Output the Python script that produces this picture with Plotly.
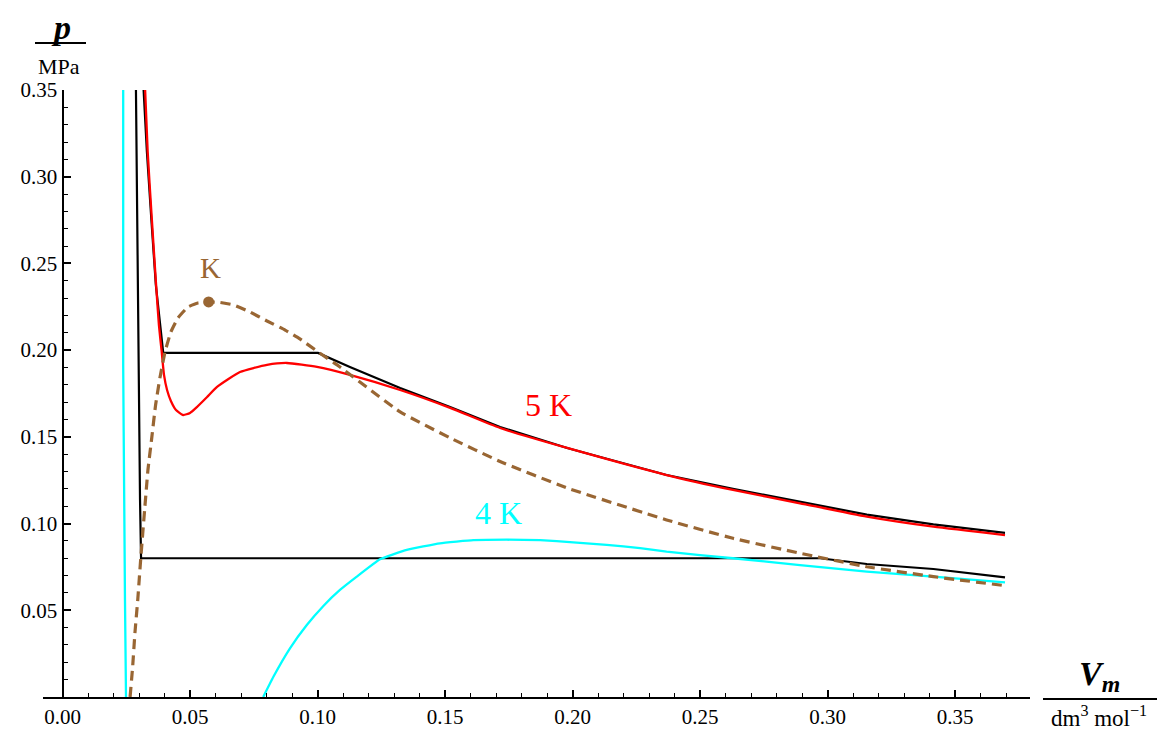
import plotly.graph_objects as go

# --- isotherm data (V_m in dm^3/mol, p in MPa) ---
# van der Waals isotherm, T = 5 K
v_vdw5 = [0.0324, 0.0334, 0.0350, 0.0367, 0.0378, 0.0389, 0.0398, 0.0410, 0.0425, 0.0445,
          0.0473, 0.0500, 0.0527, 0.0567, 0.0606, 0.0696, 0.0802, 0.0880, 0.0998, 0.1127,
          0.1324, 0.1520, 0.1716, 0.1979, 0.2369, 0.2629, 0.2892, 0.3154, 0.3415, 0.3696]
p_vdw5 = [0.3500, 0.3143, 0.2762, 0.2376, 0.2145, 0.1990, 0.1857, 0.1770, 0.1707, 0.1655,
          0.1626, 0.1638, 0.1672, 0.1730, 0.1788, 0.1874, 0.1915, 0.1926, 0.1903, 0.1857,
          0.1770, 0.1667, 0.1551, 0.1436, 0.1280, 0.1194, 0.1117, 0.1040, 0.0982, 0.0934]

# van der Waals isotherm, T = 4 K (two visible branches)
v_vdw4_liq = [0.0238, 0.0238, 0.0242, 0.0245, 0.0249]
p_vdw4_liq = [0.3500, 0.1915, 0.1136, 0.0560, 0.0000]
v_vdw4_gas = [0.0787, 0.0827, 0.0892, 0.0958, 0.1023, 0.1088, 0.1154, 0.1245, 0.1350, 0.1480,
              0.1611, 0.1742, 0.1873, 0.2003, 0.2134, 0.2265, 0.2369, 0.2629, 0.2892, 0.3154,
              0.3415, 0.3696]
p_vdw4_gas = [0.0000, 0.0117, 0.0281, 0.0415, 0.0525, 0.0617, 0.0694, 0.0794, 0.0848, 0.0886,
              0.0904, 0.0907, 0.0904, 0.0892, 0.0877, 0.0859, 0.0838, 0.0800, 0.0761, 0.0723,
              0.0694, 0.0661]

# real isotherms with the two-phase plateau
v_real5 = [0.0318, 0.0331, 0.0348, 0.0366, 0.0395, 0.1002, 0.1127, 0.1324, 0.1520, 0.1716,
           0.1979, 0.2369, 0.2629, 0.2892, 0.3154, 0.3415, 0.3696]
p_real5 = [0.3500, 0.3143, 0.2762, 0.2376, 0.1984, 0.1984, 0.1903, 0.1782, 0.1672, 0.1557,
           0.1436, 0.1280, 0.1200, 0.1125, 0.1052, 0.0995, 0.0946]
v_real4 = [0.0288, 0.0297, 0.0304, 0.0308, 0.2971, 0.3154, 0.3415, 0.3696]
p_real4 = [0.3500, 0.1915, 0.1136, 0.0800, 0.0800, 0.0767, 0.0738, 0.0690]

# coexistence curve
v_coex = [0.0265, 0.0275, 0.0284, 0.0295, 0.0307, 0.0322, 0.0335, 0.0349, 0.0365, 0.0382,
          0.0402, 0.0425, 0.0453, 0.0492, 0.0531, 0.0573, 0.0618, 0.0669, 0.0735, 0.0802,
          0.0873, 0.0931, 0.1002, 0.1088, 0.1324, 0.1520, 0.1716, 0.1979, 0.2369,
          0.2629, 0.2892, 0.3154, 0.3415, 0.3696]
p_coex = [0.0000, 0.0173, 0.0369, 0.0559, 0.0802, 0.1078, 0.1309, 0.1482, 0.1684, 0.1840,
          0.1990, 0.2105, 0.2186, 0.2249, 0.2272, 0.2278, 0.2275, 0.2261, 0.2220, 0.2168,
          0.2116, 0.2065, 0.1990, 0.1903, 0.1644, 0.1494, 0.1358, 0.1205, 0.1021,
          0.0915, 0.0829, 0.0751, 0.0694, 0.0642]

# critical point
v_crit = [0.0573]
p_crit = [0.2278]

y_ticks = [0.05, 0.10, 0.15, 0.20, 0.25, 0.30, 0.35]
y_tick_text = ["0.05", "0.10", "0.15", "0.20", "0.25", "0.30", "0.35"]
x_ticks = [0.00, 0.05, 0.10, 0.15, 0.20, 0.25, 0.30, 0.35]
x_tick_text = ["0.00", "0.05", "0.10", "0.15", "0.20", "0.25", "0.30", "0.35"]

# --- layout geometry (pixels) ---
W, H = 1157, 735
ML, MR, MT, MB = 43, 127, 90, 38
PW, PH = W - ML - MR, H - MT - MB
X0 = -0.00765
X1 = 0.3794
BROWN = "#996633"
SERIF = "Liberation Serif"


def px_x(px):
    return (px - ML) / PW


def px_y(py):
    return (H - MB - py) / PH


def label(px, py, text, size, color="black"):
    fig.add_annotation(x=px_x(px), y=px_y(py), xref="paper", yref="paper",
                       xanchor="center", yanchor="middle",
                       text=text, showarrow=False,
                       font=dict(family=SERIF, size=size, color=color))


fig = go.Figure()

fig.add_trace(go.Scatter(x=v_real5, y=p_real5, mode="lines",
                         line=dict(color="black", width=2.2), hoverinfo="skip"))
fig.add_trace(go.Scatter(x=v_real4, y=p_real4, mode="lines",
                         line=dict(color="black", width=2.2), hoverinfo="skip"))
fig.add_trace(go.Scatter(x=v_vdw5, y=p_vdw5, mode="lines",
                         line=dict(color="#ff0000", width=2.3, shape="spline", smoothing=0.5),
                         hoverinfo="skip"))
fig.add_trace(go.Scatter(x=v_vdw4_liq + [None] + v_vdw4_gas,
                         y=p_vdw4_liq + [None] + p_vdw4_gas, mode="lines",
                         line=dict(color="#00ffff", width=2.3, shape="spline", smoothing=0.35),
                         connectgaps=False, hoverinfo="skip"))
fig.add_trace(go.Scatter(x=v_coex, y=p_coex, mode="lines",
                         line=dict(color=BROWN, width=3.2, dash="10px,6px",
                                   shape="spline", smoothing=0.35),
                         hoverinfo="skip"))
fig.add_trace(go.Scatter(x=v_crit, y=p_crit, mode="markers",
                         marker=dict(color=BROWN, size=11), hoverinfo="skip"))

fig.update_layout(
    width=W, height=H,
    margin=dict(l=ML, r=MR, t=MT, b=MB, pad=0),
    paper_bgcolor="white", plot_bgcolor="white",
    showlegend=False,
    font=dict(family=SERIF, size=21, color="black"),
    xaxis=dict(range=[X0, X1], showgrid=False, zeroline=False, automargin=False,
               showline=True, linecolor="black", linewidth=2,
               ticks="inside", ticklen=7, tickwidth=1.5, tickcolor="black",
               tickvals=x_ticks, ticktext=x_tick_text,
               tickfont=dict(family=SERIF, size=21),
               minor=dict(dtick=0.01, tick0=0, ticks="inside", ticklen=4,
                          tickwidth=1.2, tickcolor="black", showgrid=False)),
    yaxis=dict(range=[0, 0.35], showgrid=False, zeroline=False, automargin=False,
               anchor="free", position=px_x(62.5),
               showline=True, linecolor="black", linewidth=2,
               ticks="inside", ticklen=7, tickwidth=1.5, tickcolor="black",
               tickvals=y_ticks, ticktext=y_tick_text,
               tickfont=dict(family=SERIF, size=21),
               minor=dict(dtick=0.01, tick0=0, ticks="inside", ticklen=4,
                          tickwidth=1.2, tickcolor="black", showgrid=False)),
)

# axis titles
label(61, 28, "<b><i>p</i></b>", 34)
fig.add_shape(type="line", xref="paper", yref="paper",
              x0=px_x(35), x1=px_x(86), y0=px_y(43), y1=px_y(43),
              line=dict(color="black", width=2))
label(59, 67, "MPa", 22)

label(1099, 676, "<b><i>V</i></b><sub><b><i>m</i></b></sub>", 34)
fig.add_shape(type="line", xref="paper", yref="paper",
              x0=px_x(1043), x1=px_x(1157), y0=px_y(699), y1=px_y(699),
              line=dict(color="black", width=2))
label(1099, 716, "dm<sup>3</sup> mol<sup>\u22121</sup>", 23)

# curve labels
label(210, 268, "K", 29, BROWN)
label(548, 405, "5 K", 32, "#ff0000")
label(498, 513, "4 K", 32, "#00ffff")

fig.write_html("out.html")
